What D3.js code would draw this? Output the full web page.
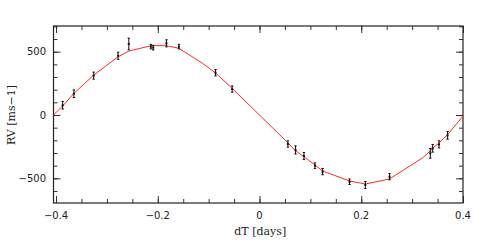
<!DOCTYPE html>
<html>
<head>
<meta charset="utf-8">
<script src="https://cdn.jsdelivr.net/npm/d3@7"></script>
<style>
  body { margin: 0; background: #fff; }
  svg { display: block; }
  .tick-label { font-family: "DejaVu Sans", sans-serif; font-size: 10px; fill: #222; }
  .title { font-family: "DejaVu Serif", serif; font-size: 11px; fill: #222; }
</style>
</head>
<body>
<svg id="chart"></svg>
<script>
// observed radial velocities
const obsTime = [-0.387, -0.365, -0.326, -0.278, -0.257, -0.2136, -0.209, -0.183, -0.1585,
  -0.0865, -0.0537, 0.0558, 0.0708, 0.0873, 0.109, 0.124, 0.177, 0.208, 0.2557,
  0.3357, 0.3404, 0.3528, 0.3697];
const obsRV = [77, 168, 311, 468, 561, 540, 532, 566, 540,
  334, 205, -229, -276, -324, -400, -447, -527, -553, -487,
  -303, -263, -232, -161];
const obsErr = [30, 30, 28, 28, 46, 18, 18, 28, 18,
  25, 25, 25, 32, 28, 22, 25, 22, 28, 25,
  38, 30, 28, 30];

// model curve (as drawn)
const modelTime = [-0.405, -0.387, -0.365, -0.326, -0.278, -0.257, -0.2136, -0.209, -0.183,
  -0.1585, -0.112, -0.087, -0.054, 0.057, 0.069, 0.087, 0.109, 0.124, 0.177,
  0.208, 0.2557, 0.321, 0.336, 0.341, 0.352, 0.3705, 0.4];
const modelRV = [0, 72, 170, 315, 460, 505, 547, 548, 547,
  527, 408, 334, 211, -224, -276, -329, -395, -442, -521,
  -545, -505, -337, -282, -258, -224, -152, -8];

const xTicks = [-0.4, -0.2, 0, 0.2, 0.4];
const yTicks = [-500, 0, 500];

(function () {
  const W = 491, H = 251;
  const box = { left: 53.5, right: 463, top: 26, bottom: 203 };

  const svg = d3.select("#chart").attr("width", W).attr("height", H);

  const x = d3.scaleLinear().domain([-0.405, 0.4]).range([box.left, box.right]);
  const y = d3.scaleLinear().domain([-695, 703]).range([box.bottom, box.top]);

  const xMinor = d3.range(-0.4, 0.401, 0.05).map(v => +v.toFixed(2));
  const yMinor = d3.range(-600, 701, 100);

  // inward ticks on all four sides
  function ticks(axisFn, scale, values, size, translate) {
    svg.append("g")
      .attr("transform", translate)
      .call(axisFn(scale).tickValues(values).tickSize(size).tickFormat(""))
      .call(g => g.select(".domain").remove())
      .call(g => g.selectAll("line").attr("stroke", "#333").attr("stroke-width", 1));
  }
  ticks(d3.axisTop, x, xMinor, 4, `translate(0,${box.bottom})`);
  ticks(d3.axisTop, x, xTicks, 7, `translate(0,${box.bottom})`);
  ticks(d3.axisBottom, x, xMinor, 4, `translate(0,${box.top})`);
  ticks(d3.axisBottom, x, xTicks, 7, `translate(0,${box.top})`);
  ticks(d3.axisRight, y, yMinor, 4, `translate(${box.left},0)`);
  ticks(d3.axisRight, y, yTicks, 7, `translate(${box.left},0)`);
  ticks(d3.axisLeft, y, yMinor, 4, `translate(${box.right},0)`);
  ticks(d3.axisLeft, y, yTicks, 7, `translate(${box.right},0)`);

  // frame
  svg.append("rect")
    .attr("x", box.left).attr("y", box.top)
    .attr("width", box.right - box.left).attr("height", box.bottom - box.top)
    .attr("fill", "none").attr("stroke", "#222").attr("stroke-width", 1.2);

  // tick labels
  const fmt = d3.format("");
  svg.append("g").selectAll("text").data(xTicks).join("text")
    .attr("class", "tick-label")
    .attr("x", d => x(d)).attr("y", 219)
    .attr("text-anchor", "middle")
    .text(d => fmt(d));
  svg.append("g").selectAll("text").data(yTicks).join("text")
    .attr("class", "tick-label")
    .attr("x", 46).attr("y", d => y(d) + 3.5)
    .attr("text-anchor", "end")
    .text(d => fmt(d));

  // axis titles
  svg.append("text").attr("class", "title")
    .attr("x", (box.left + box.right) / 2 + 2).attr("y", 235)
    .attr("text-anchor", "middle")
    .text("dT [days]");
  svg.append("text").attr("class", "title")
    .attr("transform", `translate(15,${y(0)}) rotate(-90)`)
    .attr("text-anchor", "middle")
    .text("RV [ms\u22121]");

  // clip
  svg.append("clipPath").attr("id", "clip")
    .append("rect")
    .attr("x", box.left).attr("y", box.top)
    .attr("width", box.right - box.left).attr("height", box.bottom - box.top);

  // model
  const line = d3.line().x(d => x(d[0])).y(d => y(d[1]));
  svg.append("path")
    .datum(d3.zip(modelTime, modelRV))
    .attr("clip-path", "url(#clip)")
    .attr("d", line)
    .attr("fill", "none")
    .attr("stroke", "#ff2a2a")
    .attr("stroke-width", 1);

  // observations with error bars
  const obs = d3.zip(obsTime, obsRV, obsErr);
  const g = svg.append("g").attr("stroke", "#111").attr("stroke-width", 1);
  g.selectAll("line.bar").data(obs).join("line")
    .attr("class", "bar")
    .attr("x1", d => x(d[0])).attr("x2", d => x(d[0]))
    .attr("y1", d => y(d[1] - d[2])).attr("y2", d => y(d[1] + d[2]));
  g.selectAll("line.capLo").data(obs).join("line")
    .attr("class", "capLo")
    .attr("x1", d => x(d[0]) - 1.2).attr("x2", d => x(d[0]) + 1.2)
    .attr("y1", d => y(d[1] - d[2])).attr("y2", d => y(d[1] - d[2]));
  g.selectAll("line.capHi").data(obs).join("line")
    .attr("class", "capHi")
    .attr("x1", d => x(d[0]) - 1.2).attr("x2", d => x(d[0]) + 1.2)
    .attr("y1", d => y(d[1] + d[2])).attr("y2", d => y(d[1] + d[2]));
  svg.append("g").selectAll("rect").data(obs).join("rect")
    .attr("x", d => x(d[0]) - 1).attr("y", d => y(d[1]) - 1)
    .attr("width", 2).attr("height", 2)
    .attr("fill", "#111");
})();
</script>
</body>
</html>
